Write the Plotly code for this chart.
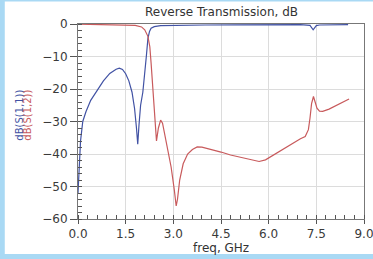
import plotly.graph_objects as go

# S(1,1) data (freq GHz, dB)
f11 = [0.0, 0.03, 0.08, 0.15, 0.25, 0.4, 0.6, 0.8, 1.0, 1.2, 1.3, 1.4, 1.5, 1.6, 1.7, 1.78, 1.84, 1.88,
       1.92, 1.97, 2.04, 2.1, 2.15, 2.2, 2.25, 2.3, 2.4, 2.6, 3.0, 4.0, 5.0, 6.0, 7.0, 7.3, 7.4, 7.5, 7.6, 8.5]
s11 = [-52, -45, -36, -30, -27, -23.5, -20.5, -17.5, -15.2, -13.9, -13.6, -14, -15.3, -17.5, -21, -26, -32, -37,
       -31, -25, -21, -16, -10, -4.5, -2.3, -1.3, -0.8, -0.5, -0.4, -0.3, -0.25, -0.2, -0.2, -0.4, -1.8, -0.5, -0.3, -0.2]

# S(1,2) data
f12 = [0.0, 0.5, 1.0, 1.5, 1.8, 2.0, 2.1, 2.2, 2.26, 2.3, 2.35, 2.41, 2.44, 2.47, 2.53, 2.6, 2.66, 2.77,
       2.85, 2.93, 3.03, 3.09, 3.13, 3.2, 3.31, 3.45, 3.6, 3.75, 3.9, 4.2, 4.5, 4.8, 5.1, 5.4, 5.7, 5.9,
       6.2, 6.5, 6.8, 7.0, 7.15, 7.25, 7.3, 7.35, 7.41, 7.46, 7.52, 7.6, 7.7, 7.9, 8.1, 8.3, 8.53]
s12 = [-0.05, -0.1, -0.15, -0.25, -0.4, -0.9, -1.8, -3.8, -7, -12, -19, -28.5, -33, -36, -32, -29.6, -30.5, -35.7,
       -40, -44, -51, -56, -54, -48, -43, -40, -38.6, -37.8, -37.9, -38.6, -39.4, -40.3, -41, -41.8, -42.3, -41.8,
       -40, -38.2, -36.6, -35.3, -34.6, -32.5, -29, -24.5, -22.3, -24, -25.9, -26.8, -26.9, -26.2, -25.2, -24.3, -23.1]

x_ticks = [0.0, 1.5, 3.0, 4.5, 6.0, 7.5, 9.0]
x_tick_labels = ["0.0", "1.5", "3.0", "4.5", "6.0", "7.5", "9.0"]
y_ticks = [0, -10, -20, -30, -40, -50, -60]

BLUE = "#4152a4"
RED = "#c85a5c"
FONT = "DejaVu Sans"

fig = go.Figure()
fig.add_trace(go.Scatter(x=f11, y=s11, mode="lines", line=dict(color=BLUE, width=1.2), name="dB(S(1,1))"))
fig.add_trace(go.Scatter(x=f12, y=s12, mode="lines", line=dict(color=RED, width=1.2), name="dB(S(1,2))"))

fig.update_layout(
    width=373, height=259,
    margin=dict(l=78, r=9, t=24, b=40, autoexpand=False),
    paper_bgcolor="#a9d9f4",
    plot_bgcolor="white",
    showlegend=False,
    font=dict(family=FONT, size=12, color="#3a3a3a"),
    shapes=[dict(type="rect", xref="paper", yref="paper", x0=-0.256, x1=1.2, y0=-0.18, y1=1.116,
                 fillcolor="white", line=dict(width=0), layer="below")],
    annotations=[
        dict(text="Reverse Transmission, dB", xref="paper", yref="paper", x=0.5, y=1.0, yshift=12,
             showarrow=False, font=dict(size=12, color="#333333"), yanchor="middle"),
        dict(text="freq, GHz", xref="paper", yref="paper", x=0.5, y=0, yshift=-29,
             showarrow=False, font=dict(size=12, color="#333333"), yanchor="middle"),
        dict(text="dB(S(1,1))", xref="paper", yref="paper", x=0, xshift=-58, y=0.53, textangle=-90,
             showarrow=False, font=dict(size=10, color=BLUE), xanchor="center", yanchor="middle"),
        dict(text="dB(S(1,2))", xref="paper", yref="paper", x=0, xshift=-50, y=0.53, textangle=-90,
             showarrow=False, font=dict(size=10, color=RED), xanchor="center", yanchor="middle"),
    ],
)

fig.update_xaxes(range=[0, 9], tickvals=x_ticks, ticktext=x_tick_labels, automargin=False,
                 ticklabeloverflow="allow",
                 showgrid=True, gridcolor="#dcdcdc", gridwidth=1,
                 showline=True, linecolor="#777777", linewidth=1, mirror=True,
                 ticks="outside", ticklen=4, tickcolor="#555555",
                 minor=dict(dtick=0.3, ticks="inside", ticklen=4, tickcolor="#555555", showgrid=False),
                 zeroline=False, fixedrange=True)
fig.update_yaxes(range=[-60, 0], tickvals=y_ticks, automargin=False,
                 ticklabeloverflow="allow",
                 showgrid=True, gridcolor="#dcdcdc", gridwidth=1,
                 showline=True, linecolor="#777777", linewidth=1, mirror=True,
                 ticks="outside", ticklen=7, tickcolor="#555555",
                 minor=dict(dtick=2, ticks="inside", ticklen=4, tickcolor="#555555", showgrid=False),
                 zeroline=False, fixedrange=True)

fig.write_html("out.html", config={"displayModeBar": False},
               post_script="document.body.style.margin='0';document.body.style.padding='0';document.body.style.overflow='hidden';")
